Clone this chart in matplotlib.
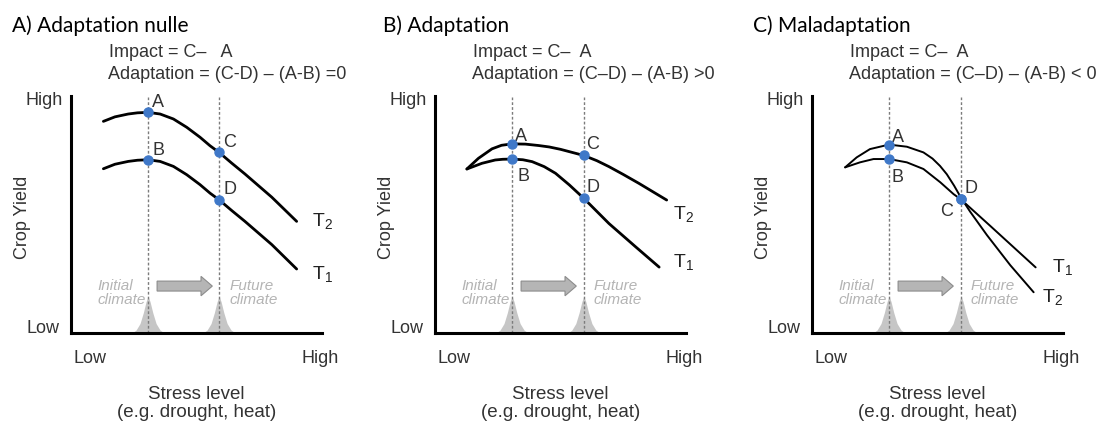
import matplotlib
matplotlib.use("Agg")
import matplotlib.pyplot as plt
import numpy as np

plt.rcParams["font.family"] = ["Liberation Sans", "DejaVu Sans"]

# ---- text ----
panel_titles = ["A) Adaptation nulle", "B) Adaptation", "C) Maladaptation"]
impact_texts = ["Impact = C–   A", "Impact = C–  A", "Impact = C–  A"]
adapt_texts = ["Adaptation = (C-D) – (A-B) =0",
               "Adaptation = (C–D) – (A-B) >0",
               "Adaptation = (C–D) – (A-B) < 0"]

# ---- climate positions (stress level, 0-10 scale) ----
x_initial = [3.07, 3.07, 3.07]
x_future = [5.90, 5.93, 5.94]

# ---- yield curves (0-10 scale), one list per panel ----
t2_x = [
    [1.29, 1.75, 2.28, 2.65, 3.07, 3.55, 4.08, 4.61, 5.14, 5.54, 5.90, 6.40, 6.93, 8.00, 8.99],
    [1.27, 1.73, 2.27, 2.65, 3.07, 3.60, 4.13, 4.55, 5.00, 5.93, 6.45, 6.93, 7.50, 8.13, 9.23],
    [1.32, 1.78, 2.31, 3.07, 3.78, 4.44, 4.80, 5.10, 5.37, 5.66, 5.94, 6.30, 6.97, 7.90, 8.83],
]
t2_y = [
    [8.93, 9.12, 9.24, 9.29, 9.31, 9.24, 9.03, 8.68, 8.26, 7.90, 7.62, 7.17, 6.71, 5.73, 4.71],
    [6.92, 7.37, 7.77, 7.92, 7.98, 7.97, 7.91, 7.85, 7.75, 7.49, 7.27, 7.02, 6.69, 6.31, 5.61],
    [6.99, 7.41, 7.76, 7.95, 7.86, 7.62, 7.36, 7.05, 6.70, 6.22, 5.70, 5.12, 4.13, 2.86, 1.72],
]
t1_x = [
    [1.29, 1.75, 2.28, 2.65, 3.07, 3.55, 4.08, 4.61, 5.14, 5.54, 5.90, 6.40, 6.93, 8.00, 8.99],
    [1.27, 1.87, 2.40, 2.70, 3.07, 3.50, 3.87, 4.35, 4.80, 5.35, 5.93, 6.93, 8.00, 8.93],
    [1.32, 1.91, 2.45, 3.07, 3.78, 4.44, 5.11, 5.64, 5.94, 7.09, 8.91],
]
t1_y = [
    [6.93, 7.12, 7.24, 7.29, 7.31, 7.24, 7.03, 6.68, 6.26, 5.90, 5.62, 5.17, 4.71, 3.73, 2.70],
    [6.92, 7.16, 7.30, 7.33, 7.34, 7.31, 7.23, 7.02, 6.74, 6.25, 5.68, 4.62, 3.63, 2.78],
    [6.99, 7.20, 7.34, 7.34, 7.20, 6.92, 6.36, 5.86, 5.63, 4.53, 2.77],
]

# ---- marked points ----
pt_A = [9.31, 7.98, 7.95]
pt_B = [7.31, 7.34, 7.34]
pt_C = [7.62, 7.49, 5.65]
pt_D = [5.62, 5.68, 5.65]

# label anchors (x, y) per panel: A, B, C, D, T2, T1
lab_A = [(3.23, 9.75), (3.20, 8.35), (3.18, 8.31)]
lab_B = [(3.23, 7.76), (3.27, 6.65), (3.18, 6.62)]
lab_C = [(6.06, 8.06), (6.04, 8.00), (5.10, 5.15)]
lab_D = [(6.06, 6.08), (6.04, 6.19), (6.07, 6.16)]
lab_T2 = [(9.60, 4.73), (9.47, 5.04), (9.17, 1.52)]
lab_T1 = [(9.60, 2.49), (9.47, 3.00), (9.57, 2.78)]

# climate distribution shape (offset from climate position, height)
bell_dx = [-0.65, -0.48, -0.32, -0.19, -0.08, 0.0, 0.08, 0.19, 0.32, 0.48, 0.65]
bell_h = [0.0, 0.12, 0.40, 0.85, 1.32, 1.55, 1.32, 0.85, 0.40, 0.12, 0.0]

W, H = 1098, 427
fig = plt.figure(figsize=(W / 100, H / 100), dpi=100)

origins = [71, 435, 812]
title_x = [12, 383, 753]
dot_color = "#3f78c8"
grey_txt = "#b4b4b4"
txt = "#333333"

for i in range(3):
    ax = fig.add_axes([origins[i] / W, (H - 334) / H, 251 / W, 237 / H])
    ax.set_xlim(0, 10)
    ax.set_ylim(0, 10)
    for s in ["top", "right"]:
        ax.spines[s].set_visible(False)
    for s in ["left", "bottom"]:
        ax.spines[s].set_linewidth(2.2)
    ax.set_xticks([])
    ax.set_yticks([])

    # climate distributions
    for xc in (x_initial[i], x_future[i]):
        ax.fill_between(np.array(bell_dx) + xc, 0, bell_h, color="#c6c6c6", lw=0, zorder=1)

    ax.vlines([x_initial[i], x_future[i]], 0, 9.96, colors="#7c7c7c",
              linestyles=(0, (2, 1.5)), lw=1.0, zorder=2)

    # shift arrow
    ax.arrow(3.43, 1.98, 2.2, 0, width=0.42, head_width=0.82, head_length=0.45,
             length_includes_head=True, fc="#b5b5b5", ec="#8c8c8c", lw=0.8, zorder=3)

    ax.text(1.04, 1.72, "Initial\nclimate", fontsize=11, style="italic",
            color=grey_txt, ha="left", va="center", linespacing=1.0)
    ax.text(6.33, 1.72, "Future\nclimate", fontsize=11, style="italic",
            color=grey_txt, ha="left", va="center", linespacing=1.0)

    lw = 2.0 if i < 2 else 1.4
    ax.plot(t2_x[i], t2_y[i], color="black", lw=lw, solid_capstyle="round",
            solid_joinstyle="round", zorder=4)
    ax.plot(t1_x[i], t1_y[i], color="black", lw=lw, solid_capstyle="round",
            solid_joinstyle="round", zorder=4)

    ax.plot([x_initial[i], x_initial[i], x_future[i], x_future[i]],
            [pt_A[i], pt_B[i], pt_C[i], pt_D[i]], "o", color=dot_color,
            ms=6.5, mec=dot_color, zorder=5)

    for lab, (lx, ly) in zip("ABCD", [lab_A[i], lab_B[i], lab_C[i], lab_D[i]]):
        ax.text(lx, ly, lab, fontsize=13, color=txt, ha="left", va="center")
    ax.text(*lab_T2[i], r"T$_\mathregular{2}$", fontsize=14, color="#222222", ha="left", va="center")
    ax.text(*lab_T1[i], r"T$_\mathregular{1}$", fontsize=14, color="#222222", ha="left", va="center")

    # axis words
    ax.text(-0.32, 9.87, "High", fontsize=13, color=txt, ha="right", va="center")
    ax.text(-0.45, 0.25, "Low", fontsize=13, color=txt, ha="right", va="center")
    ax.text(0.76, -1.05, "Low", fontsize=13, color=txt, ha="center", va="center")
    ax.text(9.92, -1.05, "High", fontsize=13, color=txt, ha="center", va="center")
    ax.text(-1.95, 4.9, "Crop Yield", fontsize=13, color=txt, rotation=90,
            ha="center", va="center")
    ax.text(5.0, -2.57, "Stress level", fontsize=13.5, color=txt, ha="center", va="center")
    ax.text(5.0, -3.33, "(e.g. drought, heat)", fontsize=13.5, color=txt, ha="center", va="center")

    ax.text(1.52, 11.86, impact_texts[i], fontsize=13, color=txt, ha="left", va="center")
    ax.text(1.47, 10.93, adapt_texts[i], fontsize=13, color=txt, ha="left", va="center")

    fig.text(title_x[i] / W, 1 - 32 / H, panel_titles[i], fontsize=15,
             family=["Lato", "DejaVu Sans"], color="black", ha="left", va="baseline")

fig.savefig("out.png", dpi=100)
